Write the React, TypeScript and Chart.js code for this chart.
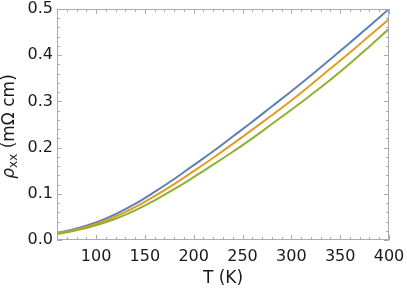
import React, { useEffect, useRef } from "react";
import { Chart, registerables } from "chart.js";

Chart.register(...registerables);

const T_VALUES = [60, 80, 100, 120, 140, 160, 180, 200, 220, 240, 260, 280, 300, 320, 340, 360, 380, 400];
const RHO_BLUE = [0.015, 0.025, 0.038, 0.056, 0.078, 0.104, 0.132, 0.162, 0.192, 0.224, 0.256, 0.289, 0.322, 0.356, 0.391, 0.427, 0.463, 0.500];
const RHO_ORANGE = [0.014, 0.023, 0.035, 0.051, 0.071, 0.095, 0.121, 0.149, 0.178, 0.208, 0.239, 0.270, 0.302, 0.336, 0.371, 0.406, 0.442, 0.478];
const RHO_GREEN = [0.013, 0.021, 0.032, 0.046, 0.064, 0.086, 0.110, 0.136, 0.163, 0.191, 0.220, 0.251, 0.282, 0.314, 0.347, 0.382, 0.419, 0.457];

const X_TICKS = [100, 150, 200, 250, 300, 350, 400];
const X_MINOR = [70, 80, 90, 110, 120, 130, 140, 160, 170, 180, 190, 210, 220, 230, 240, 260, 270, 280, 290, 310, 320, 330, 340, 360, 370, 380, 390];
const Y_TICKS = [0, 0.1, 0.2, 0.3, 0.4, 0.5];
const Y_MINOR = [0.02, 0.04, 0.06, 0.08, 0.12, 0.14, 0.16, 0.18, 0.22, 0.24, 0.26, 0.28, 0.32, 0.34, 0.36, 0.38, 0.42, 0.44, 0.46, 0.48];

const X_TITLE = "T (K)";
const FONT = "'DejaVu Sans', 'Liberation Sans', Arial, sans-serif";
const TXT = "#1a1a1a";

const zeroPad = (s: any) => {
  s.paddingTop = 0;
  s.paddingBottom = 0;
  s.paddingLeft = 0;
  s.paddingRight = 0;
};

const framePlugin = {
  id: "frameTicks",
  afterDraw(chart: any) {
    const { ctx, chartArea } = chart;
    const xs = chart.scales.x;
    const ys = chart.scales.y;
    const { left, right, top, bottom } = chartArea;
    ctx.save();
    ctx.strokeStyle = "#ababab";
    ctx.lineWidth = 1;
    ctx.strokeRect(left + 0.5, top + 0.5, right - left - 1, bottom - top - 1);
    const major = 5;
    const minor = 3;
    ctx.beginPath();
    const xt = (v: number, len: number) => {
      const px = Math.round(xs.getPixelForValue(v)) + 0.5;
      ctx.moveTo(px, bottom);
      ctx.lineTo(px, bottom - len);
      ctx.moveTo(px, top);
      ctx.lineTo(px, top + len);
    };
    const yt = (v: number, len: number) => {
      const py = Math.round(ys.getPixelForValue(v)) + 0.5;
      ctx.moveTo(left, py);
      ctx.lineTo(left + len, py);
      ctx.moveTo(right, py);
      ctx.lineTo(right - len, py);
    };
    X_TICKS.forEach((v) => xt(v, major));
    X_MINOR.forEach((v) => xt(v, minor));
    Y_TICKS.forEach((v) => yt(v, major));
    Y_MINOR.forEach((v) => yt(v, minor));
    ctx.stroke();

    // y-axis title with subscript
    const cy = (top + bottom) / 2 + 2;
    ctx.translate(10, cy);
    ctx.rotate(-Math.PI / 2);
    ctx.fillStyle = TXT;
    ctx.textBaseline = "middle";
    ctx.textAlign = "left";
    const fMain = `17px ${FONT}`;
    const fItal = `italic 17px ${FONT}`;
    const fSub = `12px ${FONT}`;
    const parts = [
      { t: "ρ", f: fItal, dy: 0 },
      { t: "xx", f: fSub, dy: 4 },
      { t: " (mΩ cm)", f: fMain, dy: 0 },
    ];
    let total = 0;
    parts.forEach((p) => {
      ctx.font = p.f;
      total += ctx.measureText(p.t).width;
    });
    let x = -total / 2;
    parts.forEach((p) => {
      ctx.font = p.f;
      ctx.fillText(p.t, x, p.dy);
      x += ctx.measureText(p.t).width;
    });
    ctx.restore();
  },
};

export default function App() {
  const ref = useRef<HTMLCanvasElement | null>(null);
  useEffect(() => {
    if (!ref.current) return;
    const mk = (data: number[], color: string) => ({
      data: T_VALUES.map((t, i) => ({ x: t, y: data[i] })),
      borderColor: color,
      backgroundColor: color,
      borderWidth: 2,
      pointRadius: 0,
      tension: 0.4,
      fill: false,
    });
    const chart = new Chart(ref.current, {
      type: "line",
      data: {
        datasets: [
          mk(RHO_GREEN, "#8fb032"),
          mk(RHO_ORANGE, "#e19c24"),
          mk(RHO_BLUE, "#5e81b5"),
        ],
      },
      options: {
        animation: false,
        responsive: false,
        maintainAspectRatio: false,
        layout: { padding: { top: 9, right: 18, left: 0, bottom: 0 } },
        plugins: { legend: { display: false }, tooltip: { enabled: false } },
        scales: {
          x: {
            type: "linear",
            min: 60,
            max: 400,
            afterFit: (s: any) => {
              s.height = 52;
              zeroPad(s);
            },
            afterBuildTicks: (s: any) => {
              s.ticks = X_TICKS.map((v) => ({ value: v }));
            },
            grid: { display: false, drawTicks: false },
            border: { display: false },
            ticks: {
              padding: 7,
              color: TXT,
              font: { family: FONT, size: 16 },
              maxRotation: 0,
              autoSkip: false,
            },
            title: {
              display: true,
              text: X_TITLE,
              color: TXT,
              font: { family: FONT, size: 17 },
              padding: { top: 0, bottom: 3 },
            },
          },
          y: {
            type: "linear",
            min: 0,
            max: 0.5,
            afterFit: (s: any) => {
              s.width = 57;
              zeroPad(s);
            },
            afterBuildTicks: (s: any) => {
              s.ticks = Y_TICKS.map((v) => ({ value: v }));
            },
            grid: { display: false, drawTicks: false },
            border: { display: false },
            ticks: {
              padding: 4,
              color: TXT,
              font: { family: FONT, size: 16 },
              autoSkip: false,
              callback: (v: any) => Number(v).toFixed(1),
            },
          },
        },
      },
      plugins: [framePlugin],
    });
    return () => chart.destroy();
  }, []);
  return (
    <div style={{ position: "absolute", left: 0, top: 0, width: 407, height: 292 }}>
      <canvas ref={ref} width={407} height={292} style={{ width: 407, height: 292 }} />
    </div>
  );
}
